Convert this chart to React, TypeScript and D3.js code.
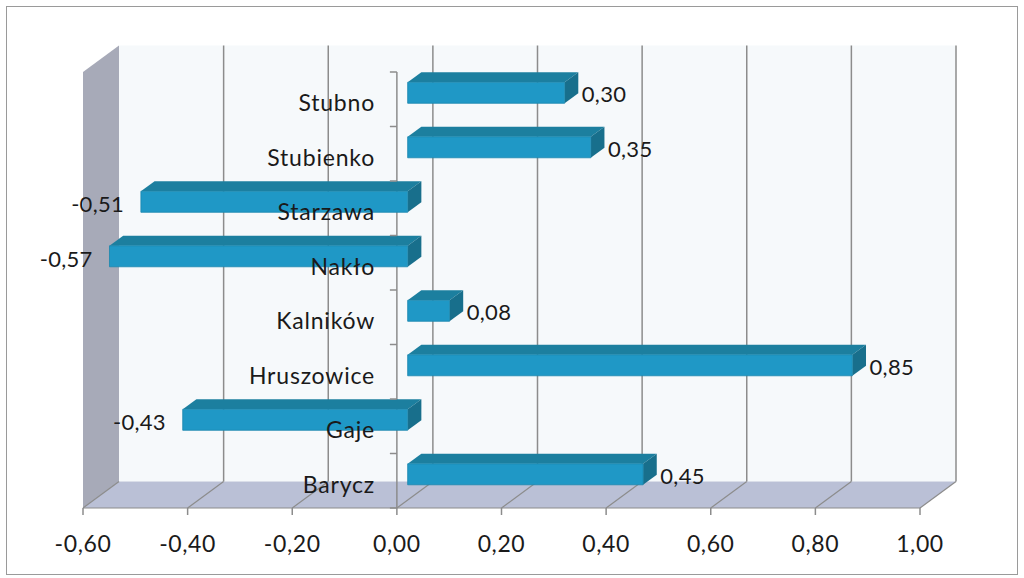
import React from "react";
import * as d3 from "d3";

const categories = ["Stubno", "Stubienko", "Starzawa", "Nakło", "Kalników", "Hruszowice", "Gaje", "Barycz"];
const values = [0.3, 0.35, -0.51, -0.57, 0.08, 0.85, -0.43, 0.45];
const xTicks = [-0.6, -0.4, -0.2, 0, 0.2, 0.4, 0.6, 0.8, 1.0];

const W = 1024;
const H = 578;
const DX = 36;
const DY = -26.5;
const Z0 = 0.3;
const Z1 = 0.68;
const FONT = "Lato, 'Open Sans', sans-serif";

const fmt = (v: number) => d3.format(".2f")(v).replace(".", ",").replace("−", "-");

export default function App() {
  const x = d3.scaleLinear().domain([-0.6, 1.0]).range([83, 920]);
  const y = d3.scaleBand<string>().domain(categories).range([72, 508]).paddingInner(0).paddingOuter(0);
  const bw = y.bandwidth();
  const thick = bw * 0.385;
  const P = (xv: number, yv: number, z: number): [number, number] => [xv + DX * z, yv + DY * z];
  const poly = (pts: [number, number][]) => pts.map((p) => p.join(",")).join(" ");
  const top = 72, bottom = 508;
  const x0 = x(-0.6), x1 = x(1.0);

  return (
    <svg width={W} height={H} style={{ position: "absolute", left: 0, top: 0, background: "#ffffff" }}>
      <rect x={6.5} y={6.5} width={1011} height={568} fill="#ffffff" stroke="#9a9a9a" strokeWidth={1} />
      {/* back wall */}
      <polygon points={poly([P(x0, top, 1), P(x1, top, 1), P(x1, bottom, 1), P(x0, bottom, 1)])} fill="#f6f9fb" />
      {/* left wall */}
      <polygon points={poly([P(x0, top, 0), P(x0, top, 1), P(x0, bottom, 1), P(x0, bottom, 0)])} fill="#a7aab8" />
      {/* floor */}
      <polygon points={poly([P(x0, bottom, 0), P(x1, bottom, 0), P(x1, bottom, 1), P(x0, bottom, 1)])} fill="#bac0d6" />
      {/* gridlines back wall + floor */}
      {xTicks.map((t) => {
        const b0 = P(x(t), top, 1);
        const b1 = P(x(t), bottom, 1);
        const f = P(x(t), bottom, 0);
        return (
          <g key={"g" + t}>
            {t > -0.6 && <line x1={b0[0]} y1={b0[1]} x2={b1[0]} y2={b1[1]} stroke="#8c8c8c" strokeWidth={1.5} />}
            <line x1={f[0]} y1={f[1]} x2={b1[0]} y2={b1[1]} stroke="#8c8c8c" strokeWidth={1.2} />
            <line x1={f[0]} y1={f[1]} x2={f[0]} y2={f[1] + 7} stroke="#8c8c8c" strokeWidth={1.5} />
            <text x={f[0]} y={543} textAnchor="middle" dominantBaseline="central" fontFamily={FONT} fontSize={23} letterSpacing={0.6} fill="#1a1a1a">
              {fmt(t)}
            </text>
          </g>
        );
      })}
      {/* floor front edge */}
      <line x1={x0} y1={bottom} x2={x1} y2={bottom} stroke="#8c8c8c" strokeWidth={1.2} />
      {/* category axis at 0 */}
      <line x1={x(0)} y1={top} x2={x(0)} y2={bottom} stroke="#8c8c8c" strokeWidth={1.5} />
      {/* bars */}
      {categories.map((c, i) => {
        const v = values[i];
        const lo = x(Math.min(0, v));
        const hi = x(Math.max(0, v));
        const cy = (y(c) as number) + bw / 2 + 1.5;
        const yt = cy - thick / 2;
        const yb = cy + thick / 2;
        const front = [P(lo, yt, Z0), P(hi, yt, Z0), P(hi, yb, Z0), P(lo, yb, Z0)];
        const topF = [P(lo, yt, Z0), P(lo, yt, Z1), P(hi, yt, Z1), P(hi, yt, Z0)];
        const side = [P(hi, yt, Z0), P(hi, yt, Z1), P(hi, yb, Z1), P(hi, yb, Z0)];
        const fc = P(0, cy, Z0)[1];
        const lbl = v >= 0
          ? <text x={x(v) + 28} y={fc + 1} textAnchor="start" dominantBaseline="central" fontFamily={FONT} fontSize={22} letterSpacing={0.3} fill="#1a1a1a">{fmt(v)}</text>
          : <text x={x(v) - 6} y={fc + 2} textAnchor="end" dominantBaseline="central" fontFamily={FONT} fontSize={22} letterSpacing={0.3} fill="#1a1a1a">{fmt(v)}</text>;
        return (
          <g key={"b" + c}>
            <polygon points={poly(topF)} fill="#1c7f9f" />
            <polygon points={poly(side)} fill="#186f8c" />
            <polygon points={poly(front)} fill="#1f98c6" stroke="#1a86ad" strokeWidth={0.8} />
            {lbl}
          </g>
        );
      })}
      {/* category tick marks */}
      {d3.range(categories.length + 1).map((k) => {
        const yy = top + k * bw;
        return <line key={"t" + k} x1={x(0) - 7} y1={yy} x2={x(0)} y2={yy} stroke="#8c8c8c" strokeWidth={1.5} />;
      })}
      {/* category labels (drawn over bars) */}
      {categories.map((c) => (
        <text key={"c" + c} x={375} y={(y(c) as number) + bw / 2 + 3} textAnchor="end" dominantBaseline="central" fontFamily={FONT} fontSize={23} letterSpacing={0.8} fill="#1a1a1a">
          {c}
        </text>
      ))}
    </svg>
  );
}
